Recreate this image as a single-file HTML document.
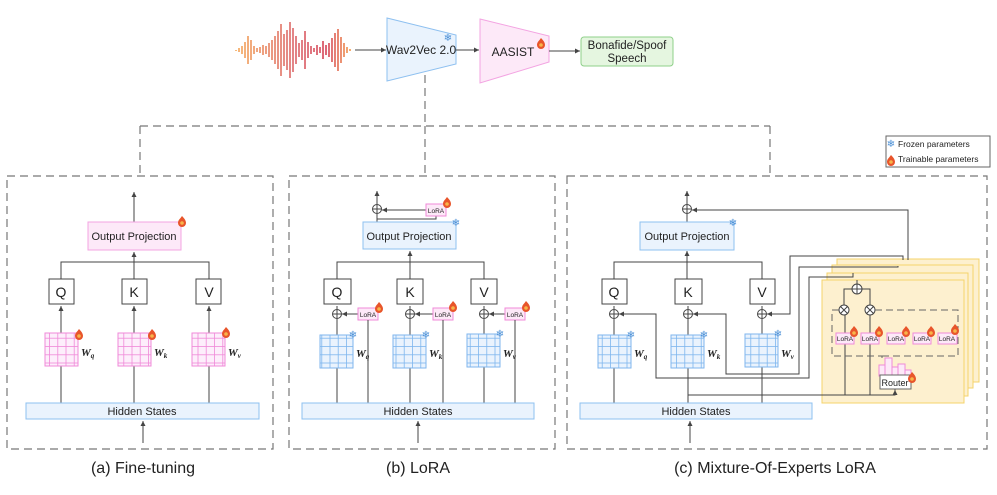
<!DOCTYPE html>
<html><head><meta charset="utf-8"><style>
html,body{margin:0;padding:0;background:#fff;}
svg{display:block;font-family:"Liberation Sans","DejaVu Sans",sans-serif;}
</style></head><body>
<svg width="997" height="495" viewBox="0 0 997 495" xmlns="http://www.w3.org/2000/svg">
<defs>
<marker id="ar" markerWidth="6" markerHeight="6" refX="5" refY="3" orient="auto" markerUnits="userSpaceOnUse"><path d="M0,0.5 L5,3 L0,5.5z" fill="#444"/></marker>
<linearGradient id="wg" x1="0" x2="1"><stop offset="0" stop-color="#f6b26b"/><stop offset="0.5" stop-color="#e0787a"/><stop offset="0.8" stop-color="#d9586a"/><stop offset="1" stop-color="#f4a460"/></linearGradient>
<pattern id="gp" width="8.25" height="8.25" patternUnits="userSpaceOnUse"><rect width="8.25" height="8.25" fill="none" stroke="#f08ad8" stroke-width="0.8"/></pattern>
<pattern id="gb" width="8.25" height="8.25" patternUnits="userSpaceOnUse"><rect width="8.25" height="8.25" fill="none" stroke="#7fb6ee" stroke-width="0.8"/></pattern>
<g id="flame"><path d="M0,-5 C3,-2 4,0 4,2 A4,4 0 0 1 -4,2 C-4,-1 -2,-2 0,-5z" fill="#e8552b"/><circle cx="0" cy="2" r="1.8" fill="#f7b54a"/></g>
</defs>
<g fill="none" stroke="#444" stroke-width="1">
<g stroke="url(#wg)" stroke-width="1.8">
<path d="M236,50v1 M239,48v4 M242,46v8 M245,42v16 M248,36v28 M251,40v20 M254,46v8 M257,48v4 M260,47v6 M263,45v10 M266,46v8 M269,43v14 M272,40v20 M275,36v28 M278,31v38 M281,24v52 M284,34v32 M287,30v40 M290,22v56 M293,28v44 M296,36v28 M299,43v14 M302,40v20 M305,31v38 M308,42v16 M311,46v8 M314,48v4 M317,45v10 M320,47v6 M323,41v18 M326,45v10 M329,43v14 M332,38v24 M335,33v34 M338,29v42 M341,37v26 M344,43v14 M347,47v6 M350,49v2"/>
</g>
<line x1="355" y1="50" x2="386" y2="50" marker-end="url(#ar)"/>
<polygon points="387,18 456,35 456,64 387,81" fill="#eaf3fd" stroke="#8ec0f0"/>
<line x1="456" y1="50" x2="479" y2="50" marker-end="url(#ar)"/>
<polygon points="480,19 549,36 549,62 480,83" fill="#fde9f8" stroke="#f3a4e2"/>
<line x1="549" y1="51" x2="580" y2="51" marker-end="url(#ar)"/>
<rect x="581" y="37" width="92" height="29" rx="3" fill="#e5f6e0" stroke="#8fd08a"/>
<g stroke="#777" stroke-dasharray="8,5" stroke-width="1.2">
<path d="M425,75 V126 M140,126 H770 M140,126 V176 M425,126 V176 M770,126 V176"/>
<rect x="7" y="176" width="266" height="273"/>
<rect x="289" y="176" width="266" height="273"/>
<rect x="567" y="176" width="420" height="273"/>
</g>
<rect x="886" y="136" width="104" height="31" fill="#fff" stroke="#666"/>

<line x1="134" y1="222" x2="134" y2="192" marker-end="url(#ar)"/>
<rect x="88" y="222" width="93" height="28" fill="#fde9f8" stroke="#f3a4e2"/>
<path d="M61,279 V262 H209 V279 M134,279 V252" />
<line x1="134" y1="262" x2="134" y2="252" marker-end="url(#ar)"/>
<rect x="49" y="279" width="25" height="25" fill="#fff"/>
<rect x="122" y="279" width="25" height="25" fill="#fff"/>
<rect x="196" y="279" width="25" height="25" fill="#fff"/>
<line x1="61" y1="403" x2="61" y2="306" marker-end="url(#ar)"/>
<line x1="134" y1="403" x2="134" y2="306" marker-end="url(#ar)"/>
<line x1="209" y1="403" x2="209" y2="306" marker-end="url(#ar)"/>
<g stroke="#f08ad8"><rect x="45" y="333" width="33" height="33" fill="#fdeefb"/><rect x="45" y="333" width="33" height="33" fill="url(#gp)"/>
<rect x="118" y="333" width="33" height="33" fill="#fdeefb"/><rect x="118" y="333" width="33" height="33" fill="url(#gp)"/>
<rect x="192" y="333" width="33" height="33" fill="#fdeefb"/><rect x="192" y="333" width="33" height="33" fill="url(#gp)"/></g>
<rect x="26" y="403" width="233" height="16" fill="#eaf3fd" stroke="#8ec0f0"/>
<line x1="143" y1="443" x2="143" y2="421" marker-end="url(#ar)"/>

<line x1="377" y1="204" x2="377" y2="191" marker-end="url(#ar)"/>
<circle cx="377" cy="209" r="4.5" fill="#fff"/><path d="M372.5,209h9M377,204.5v9"/>
<path d="M377,222 V214 M377,219 H436 V216"/>
<line x1="426" y1="210" x2="382" y2="210" marker-end="url(#ar)"/>
<rect x="426" y="204" width="20" height="12" fill="#fde9f8" stroke="#f08ad8"/>
<rect x="363" y="222" width="93" height="27" fill="#eaf3fd" stroke="#8ec0f0"/>
<path d="M337,279 V262 H484 V279 M410,279 V252"/>
<line x1="410" y1="262" x2="410" y2="251" marker-end="url(#ar)"/>
<rect x="324" y="279" width="27" height="25" fill="#fff"/>
<rect x="397" y="279" width="26" height="25" fill="#fff"/>
<rect x="471" y="279" width="26" height="25" fill="#fff"/>
<path d="M337,403 V319 M337,309 V306"/>
<circle cx="337" cy="314" r="4.5" fill="#fff"/><path d="M332.5,314h9M337,309.5v9"/>
<line x1="358" y1="314" x2="342" y2="314" marker-end="url(#ar)"/>
<rect x="358" y="308" width="20" height="12" fill="#fde9f8" stroke="#f08ad8"/>
<line x1="368" y1="403" x2="368" y2="320"/>
<path d="M410,403 V319 M410,309 V306"/>
<circle cx="410" cy="314" r="4.5" fill="#fff"/><path d="M405.5,314h9M410,309.5v9"/>
<line x1="433" y1="314" x2="415" y2="314" marker-end="url(#ar)"/>
<rect x="433" y="308" width="20" height="12" fill="#fde9f8" stroke="#f08ad8"/>
<line x1="443" y1="403" x2="443" y2="320"/>
<path d="M484,403 V319 M484,309 V306"/>
<circle cx="484" cy="314" r="4.5" fill="#fff"/><path d="M479.5,314h9M484,309.5v9"/>
<line x1="505" y1="314" x2="489" y2="314" marker-end="url(#ar)"/>
<rect x="505" y="308" width="20" height="12" fill="#fde9f8" stroke="#f08ad8"/>
<line x1="515" y1="403" x2="515" y2="320"/>
<g stroke="#7fb6ee"><rect x="320" y="335" width="33" height="33" fill="#eaf3fd"/><rect x="320" y="335" width="33" height="33" fill="url(#gb)"/>
<rect x="393" y="335" width="33" height="33" fill="#eaf3fd"/><rect x="393" y="335" width="33" height="33" fill="url(#gb)"/>
<rect x="467" y="334" width="33" height="33" fill="#eaf3fd"/><rect x="467" y="334" width="33" height="33" fill="url(#gb)"/></g>
<rect x="302" y="403" width="232" height="16" fill="#eaf3fd" stroke="#8ec0f0"/>
<line x1="418" y1="443" x2="418" y2="421" marker-end="url(#ar)"/>

<line x1="687" y1="204" x2="687" y2="191" marker-end="url(#ar)"/>
<circle cx="687" cy="209" r="4.5" fill="#fff"/><path d="M682.5,209h9M687,204.5v9 M687,222V214"/>
<rect x="640" y="222" width="94" height="28" fill="#eaf3fd" stroke="#8ec0f0"/>
<path d="M614,279 V262 H762 V279"/>
<line x1="687" y1="279" x2="687" y2="251" marker-end="url(#ar)"/>
<rect x="837" y="259" width="142" height="123" fill="#fdf0cf" stroke="#f5d36b"/>
<rect x="832" y="265" width="141" height="123" fill="#fdf0cf" stroke="#f5d36b"/>
<rect x="827" y="273" width="141" height="123" fill="#fdf0cf" stroke="#f5d36b"/>
<rect x="822" y="280" width="142" height="123" fill="#fdf0cf" stroke="#f5d36b"/>
<path d="M908,260 V210 H692"/>
<line x1="700" y1="210" x2="692" y2="210" marker-end="url(#ar)"/>
<path d="M903,260 V256 H790 V314 H767"/>
<line x1="775" y1="314" x2="767" y2="314" marker-end="url(#ar)"/>
<path d="M898,266 V267 H799 V374 H726 V314 H693"/>
<line x1="700" y1="314" x2="693" y2="314" marker-end="url(#ar)"/>
<path d="M853,273 V277 H809 V378 H656 V314 H619"/>
<line x1="626" y1="314" x2="619" y2="314" marker-end="url(#ar)"/>
<rect x="602" y="279" width="25" height="25" fill="#fff"/>
<rect x="675" y="279" width="27" height="25" fill="#fff"/>
<rect x="750" y="279" width="25" height="25" fill="#fff"/>
<path d="M614,403 V319 M614,309 V306 M688,403 V319 M688,309 V306 M762,403 V319 M762,309 V306"/>
<circle cx="614" cy="314" r="4.5" fill="#fff"/><path d="M609.5,314h9M614,309.5v9"/>
<circle cx="688" cy="314" r="4.5" fill="#fff"/><path d="M683.5,314h9M688,309.5v9"/>
<circle cx="762" cy="314" r="4.5" fill="#fff"/><path d="M757.5,314h9M762,309.5v9"/>
<g stroke="#7fb6ee"><rect x="598" y="335" width="33" height="33" fill="#eaf3fd"/><rect x="598" y="335" width="33" height="33" fill="url(#gb)"/>
<rect x="671" y="335" width="33" height="33" fill="#eaf3fd"/><rect x="671" y="335" width="33" height="33" fill="url(#gb)"/>
<rect x="745" y="334" width="33" height="33" fill="#eaf3fd"/><rect x="745" y="334" width="33" height="33" fill="url(#gb)"/></g>
<rect x="580" y="403" width="232" height="16" fill="#eaf3fd" stroke="#8ec0f0"/>
<line x1="690" y1="443" x2="690" y2="421" marker-end="url(#ar)"/>
<path d="M688,395 H895 V389 M845,395 V344 M870,395 V344"/>
<line x1="895" y1="395" x2="895" y2="390" marker-end="url(#ar)"/>
<path d="M857,284 V280" />
<circle cx="857" cy="289" r="5" fill="#fff"/><path d="M852,289h10M857,284v10"/>
<path d="M844,305 V289 H852 M870,305 V289 H862"/>
<circle cx="844" cy="310" r="5" fill="#fff"/><path d="M840.5,306.5l7,7M847.5,306.5l-7,7"/>
<circle cx="870" cy="310" r="5" fill="#fff"/><path d="M866.5,306.5l7,7M873.5,306.5l-7,7"/>
<path d="M845,333 V315 M870,333 V315"/>
<path d="M839,310 H832 V356 H882 V358 M875,310 H958 V356 H882" stroke="#666" stroke-dasharray="7,4"/>
<g fill="#fde9f8" stroke="#f08ad8"><rect x="836" y="333" width="18" height="11"/><rect x="861" y="333" width="18" height="11"/><rect x="887" y="333" width="18" height="11"/><rect x="913" y="333" width="18" height="11"/><rect x="938" y="333" width="19" height="11"/></g>
<g fill="#fde9f8" stroke="#f08ad8"><rect x="879" y="365" width="6" height="11"/><rect x="885" y="358" width="7" height="18"/><rect x="892" y="367" width="6" height="9"/><rect x="898" y="364" width="7" height="12"/><rect x="905" y="370" width="6" height="6"/></g>
<rect x="880" y="375" width="31" height="14" fill="#fff" stroke="#666"/>
</g>
<g>
<use href="#flame" x="541" y="43"/>
<use href="#flame" x="182" y="221"/>
<use href="#flame" x="79" y="334"/>
<use href="#flame" x="152" y="334"/>
<use href="#flame" x="226" y="332"/>
<use href="#flame" x="447" y="202"/>
<use href="#flame" x="379" y="307"/>
<use href="#flame" x="453" y="306"/>
<use href="#flame" x="526" y="306"/>
<use href="#flame" x="854" y="331"/>
<use href="#flame" x="879" y="331"/>
<use href="#flame" x="906" y="331"/>
<use href="#flame" x="931" y="331"/>
<use href="#flame" x="955" y="329"/>
<use href="#flame" x="912" y="377"/>
<use href="#flame" x="891" y="160"/>
</g>
<g fill="#4a8fd6" font-size="10" font-family="DejaVu Sans,sans-serif" text-anchor="middle">
<text x="448" y="41">❄</text>
<text x="456" y="226">❄</text>
<text x="353" y="338">❄</text>
<text x="426" y="338">❄</text>
<text x="500" y="337">❄</text>
<text x="733" y="226">❄</text>
<text x="631" y="338">❄</text>
<text x="704" y="338">❄</text>
<text x="778" y="337">❄</text>
<text x="891" y="147">❄</text>
</g>
<g fill="#222" font-size="11" text-anchor="middle">
<text x="421" y="54" font-size="12">Wav2Vec 2.0</text>
<text x="513" y="56" font-size="12">AASIST</text>
<text x="627" y="49" font-size="11.5">Bonafide/Spoof</text>
<text x="627" y="62" font-size="11.5">Speech</text>
<text x="134" y="240">Output Projection</text>
<text x="409" y="240">Output Projection</text>
<text x="687" y="240">Output Projection</text>
<g font-size="14"><text x="61" y="297">Q</text><text x="134" y="297">K</text><text x="209" y="297">V</text>
<text x="337" y="297">Q</text><text x="410" y="297">K</text><text x="484" y="297">V</text>
<text x="614" y="297">Q</text><text x="688" y="297">K</text><text x="762" y="297">V</text></g>
<text x="142" y="415">Hidden States</text>
<text x="418" y="415">Hidden States</text>
<text x="696" y="415">Hidden States</text>
<g font-size="6.5"><text x="436" y="213">LoRA</text><text x="368" y="317">LoRA</text><text x="443" y="317">LoRA</text><text x="515" y="317">LoRA</text>
<text x="845" y="341">LoRA</text><text x="870" y="341">LoRA</text><text x="896" y="341">LoRA</text><text x="922" y="341">LoRA</text><text x="947" y="341">LoRA</text></g>
<text x="895" y="386" font-size="9">Router</text>
<g font-size="16"><text x="143" y="473">(a) Fine-tuning</text><text x="418" y="473">(b) LoRA</text><text x="775" y="473">(c) Mixture-Of-Experts LoRA</text></g>
</g>
<g fill="#222" font-size="8.5">
<text x="898" y="147">Frozen parameters</text>
<text x="898" y="162">Trainable parameters</text>
</g>
<g fill="#222" font-family="Liberation Serif,serif" font-style="italic" font-weight="bold" font-size="11">
<text x="81" y="356">W<tspan font-size="7" dy="2">q</tspan></text>
<text x="154" y="356">W<tspan font-size="7" dy="2">k</tspan></text>
<text x="228" y="356">W<tspan font-size="7" dy="2">v</tspan></text>
<text x="356" y="357">W<tspan font-size="7" dy="2">q</tspan></text>
<text x="429" y="357">W<tspan font-size="7" dy="2">k</tspan></text>
<text x="503" y="357">W<tspan font-size="7" dy="2">v</tspan></text>
<text x="634" y="357">W<tspan font-size="7" dy="2">q</tspan></text>
<text x="707" y="357">W<tspan font-size="7" dy="2">k</tspan></text>
<text x="781" y="357">W<tspan font-size="7" dy="2">v</tspan></text>
</g>
</svg>
</body></html>
